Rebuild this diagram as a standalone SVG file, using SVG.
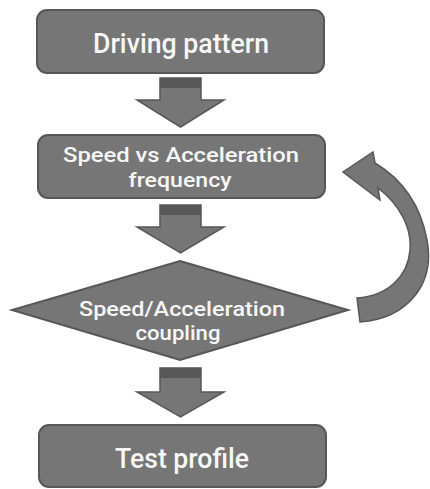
<svg xmlns="http://www.w3.org/2000/svg" width="430" height="489" viewBox="0 0 430 489">
<style>
.node{fill:#767676;stroke:#575757;stroke-width:2}
.band{fill:#575757}
.arr{fill:#767676;stroke:#575757;stroke-width:1.5;stroke-linejoin:miter}
.t{font-family:Roboto,"Liberation Sans",sans-serif;font-weight:500;fill:#f7f7f7;text-anchor:middle}
</style>
<rect width="430" height="489" fill="#ffffff"/>
<g id="connectors">
<g id="arrow1">
<path class="arr" d="M160,78 H201 V100 H224 L180.5,127 L137,100 H160 Z"/>
<rect class="band" x="160" y="78" width="41" height="10"/>
</g>
<g id="arrow2">
<path class="arr" d="M160,205 H201 V227 H224 L180.5,253 L137,227 H160 Z"/>
<rect class="band" x="160" y="205" width="41" height="10"/>
</g>
<g id="arrow3">
<path class="arr" d="M160,368 H201 V392 H224 L180.5,417 L137,392 H160 Z"/>
<rect class="band" x="160" y="368" width="41" height="10"/>
</g>
<path id="loop" class="arr" d="M360,322 C410,318 435,282 427,240 C420,202 400,178 375,163 L373,152 L343,172 L380,200 L378,188 C400,205 412,228 410,250 C408,276 388,296 357,298 Z"/>
</g>
<g id="n1">
<rect class="node" x="37" y="10" width="287" height="63" rx="10"/>
<text class="t" x="181" y="53" font-size="27" textLength="176" lengthAdjust="spacingAndGlyphs">Driving pattern</text>
</g>
<g id="n2">
<rect class="node" x="38" y="135" width="287" height="63" rx="10"/>
<text class="t" x="181" y="162" font-size="21" textLength="236" lengthAdjust="spacingAndGlyphs">Speed vs Acceleration</text>
<text class="t" x="180" y="187" font-size="21" textLength="103" lengthAdjust="spacingAndGlyphs">frequency</text>
</g>
<g id="n3">
<polygon class="node" points="180,261 348,310 180,360 12,310"/>
<text class="t" x="182" y="316" font-size="21" textLength="206" lengthAdjust="spacingAndGlyphs">Speed/Acceleration</text>
<text class="t" x="178" y="340" font-size="21" textLength="85" lengthAdjust="spacingAndGlyphs">coupling</text>
</g>
<g id="n4">
<rect class="node" x="39" y="425" width="287" height="62" rx="10"/>
<text class="t" x="182" y="468" font-size="28" textLength="134" lengthAdjust="spacingAndGlyphs">Test profile</text>
</g>
</svg>
